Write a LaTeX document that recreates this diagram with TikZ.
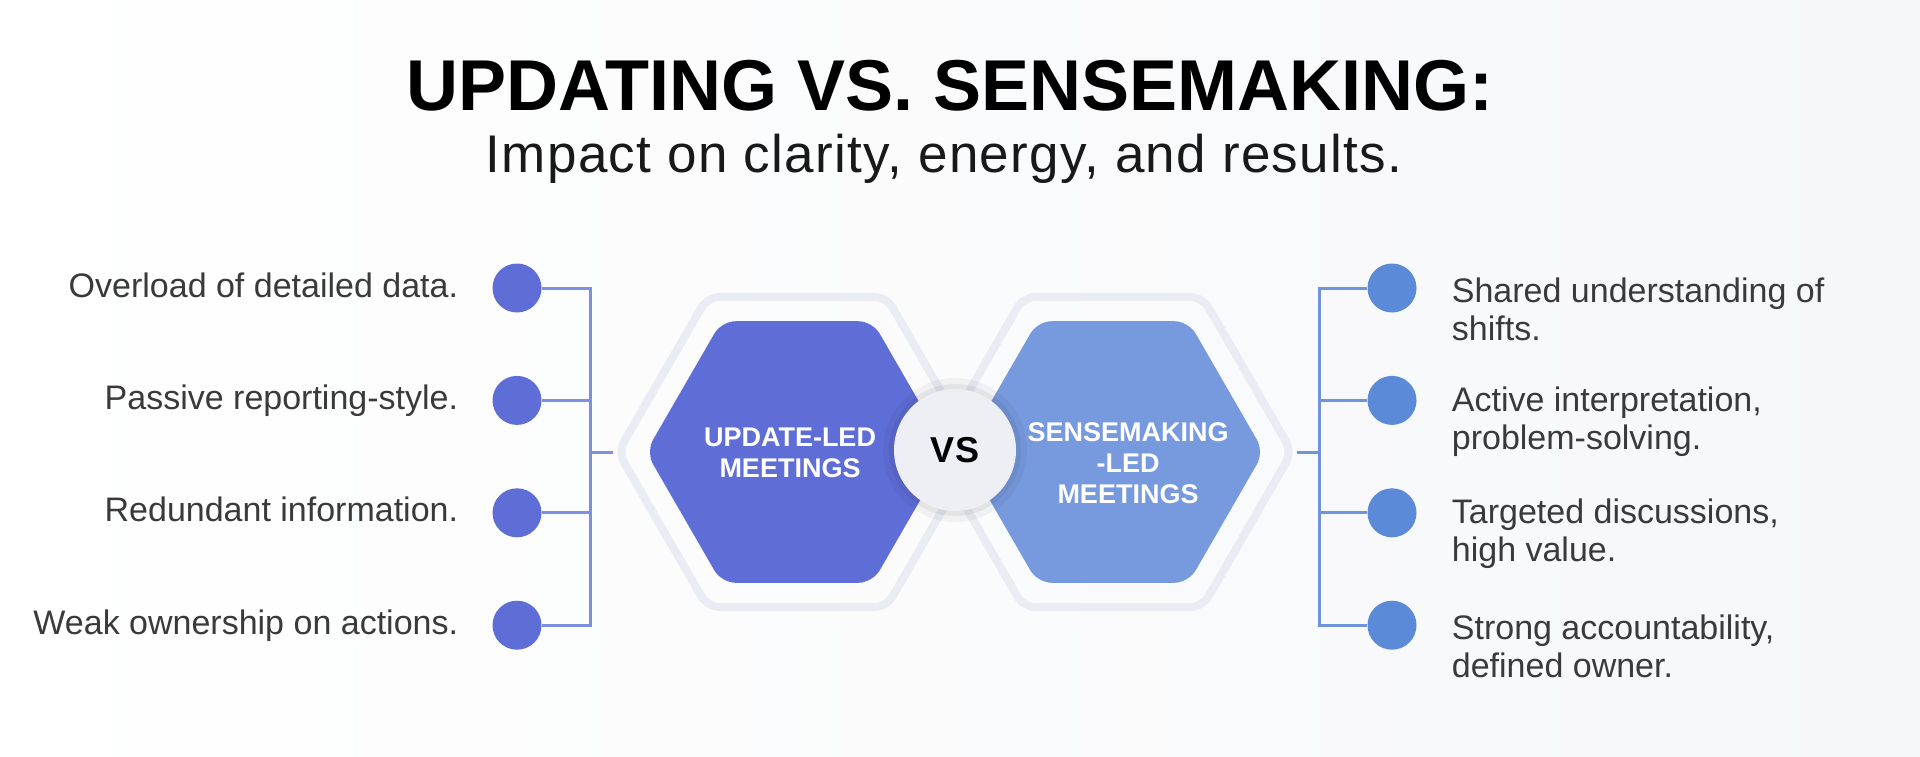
\documentclass[tikz,border=0pt]{standalone}
\usepackage{fontspec}
\setmainfont{Liberation Sans}
\newfontfamily\subtitlefont{Liberation Sans}[LetterSpace=2.5]
\usepackage{tikz}
\usetikzlibrary{positioning,shapes.geometric}

\definecolor{updblue}{HTML}{5F6ED7}
\definecolor{senblue}{HTML}{7799DE}
\definecolor{sendot}{HTML}{5A8AD8}
\definecolor{updline}{HTML}{7C8FE3}
\definecolor{senline}{HTML}{6F93DC}
\definecolor{halogray}{HTML}{E9ECF2}
\definecolor{vsgray}{HTML}{EDEFF4}
\definecolor{txtgray}{HTML}{3A3A3A}
\definecolor{bgright}{HTML}{F6F7F9}

\begin{document}
\begin{tikzpicture}[
    x=1pt, y=-1pt,
    node distance=63pt,
    halo/.style={
      regular polygon,
      regular polygon sides=6,
      minimum size=358pt,
      inner sep=0pt,
      draw=halogray,
      line width=8pt,
      rounded corners=12pt
    },
    hexbox/.style={
      regular polygon,
      regular polygon sides=6,
      minimum size=302pt,
      inner sep=0pt,
      rounded corners=14pt
    },
    hexlabel/.style={
      text=white,
      align=center,
      font=\fontsize{27}{31}\selectfont\bfseries
    },
    ldot/.style={circle, fill=updblue, minimum size=49pt, inner sep=0pt},
    rdot/.style={circle, fill=sendot, minimum size=49pt, inner sep=0pt},
    ltext/.style={
      text=txtgray,
      inner sep=0pt,
      text height=25pt,
      text depth=7pt,
      font=\fontsize{34}{38}\selectfont
    },
    rtext/.style={
      text=txtgray,
      inner sep=0pt,
      align=left,
      font=\fontsize{34}{38}\selectfont
    },
    lwire/.style={draw=updline, line width=3pt},
    rwire/.style={draw=senline, line width=3pt}
  ]

  \shade[left color=white, right color=bgright] (0,0) rectangle (1920,757);

  \node[font=\fontsize{72}{80}\selectfont\bfseries, text=black, anchor=base] (title) at (950,111) {UPDATING VS. SENSEMAKING:};
  \node[font=\fontsize{53}{58}\subtitlefont, text=black!90, anchor=base] (subtitle) at (944,172) {Impact on clarity, energy, and results.};

  \node[halo] (lhalo) at (797,452) {};
  \node[halo] (rhalo) at (1113,452) {};
  \node[hexbox, fill=updblue] (lhex) at (797,452) {};
  \node[hexbox, fill=senblue] (rhex) at (1113,452) {};
  \node[hexlabel] (llabel) at (790,453) {UPDATE-LED\\MEETINGS};
  \node[hexlabel] (rlabel) at (1128,463) {SENSEMAKING\\-LED\\MEETINGS};

  \node[circle, fill=black, opacity=0.04, minimum size=144pt] (vshalo) at (955,450) {};
  \node[circle, fill=black, opacity=0.05, minimum size=132pt] (vsshadow) at (955,450) {};
  \node[circle, fill=vsgray, minimum size=122pt, font=\fontsize{36}{40}\selectfont\bfseries] (vs) at (955,450) {VS};

  \node[ldot] (l1) at (517,288) {};
  \node[ldot, below=of l1] (l2) {};
  \node[ldot, below=of l2] (l3) {};
  \node[ldot, below=of l3] (l4) {};

  \node[ltext, left=34pt of l1] (lt1) {Overload of detailed data.};
  \node[ltext, left=34pt of l2] (lt2) {Passive reporting-style.};
  \node[ltext, left=34pt of l3] (lt3) {Redundant information.};
  \node[ltext, left=34pt of l4] (lt4) {Weak ownership on actions.};

  \node[rdot] (r1) at (1392,288) {};
  \node[rdot, below=of r1] (r2) {};
  \node[rdot, below=of r2] (r3) {};
  \node[rdot, below=of r3] (r4) {};

  \node[rtext, right=35pt of r1, yshift=-21pt] (rt1) {Shared understanding of\\shifts.};
  \node[rtext, right=35pt of r2, yshift=-21pt] (rt2) {Active interpretation,\\problem-solving.};
  \node[rtext, right=35pt of r3, yshift=-21pt] (rt3) {Targeted discussions,\\high value.};
  \node[rtext, right=35pt of r4, yshift=-21pt] (rt4) {Strong accountability,\\defined owner.};

  \coordinate (lbus) at (590,452);
  \coordinate (rbus) at (1319,452);

  \draw[lwire] (l1) -| (lbus) |- (l4);
  \draw[lwire] (l2) -- (l2 -| lbus);
  \draw[lwire] (l3) -- (l3 -| lbus);
  \draw[lwire] (lbus) -- (lhalo.west);

  \draw[rwire] (r1) -| (rbus) |- (r4);
  \draw[rwire] (r2) -- (r2 -| rbus);
  \draw[rwire] (r3) -- (r3 -| rbus);
  \draw[rwire] (rhalo.east) -- (rbus);

\end{tikzpicture}
\end{document}
